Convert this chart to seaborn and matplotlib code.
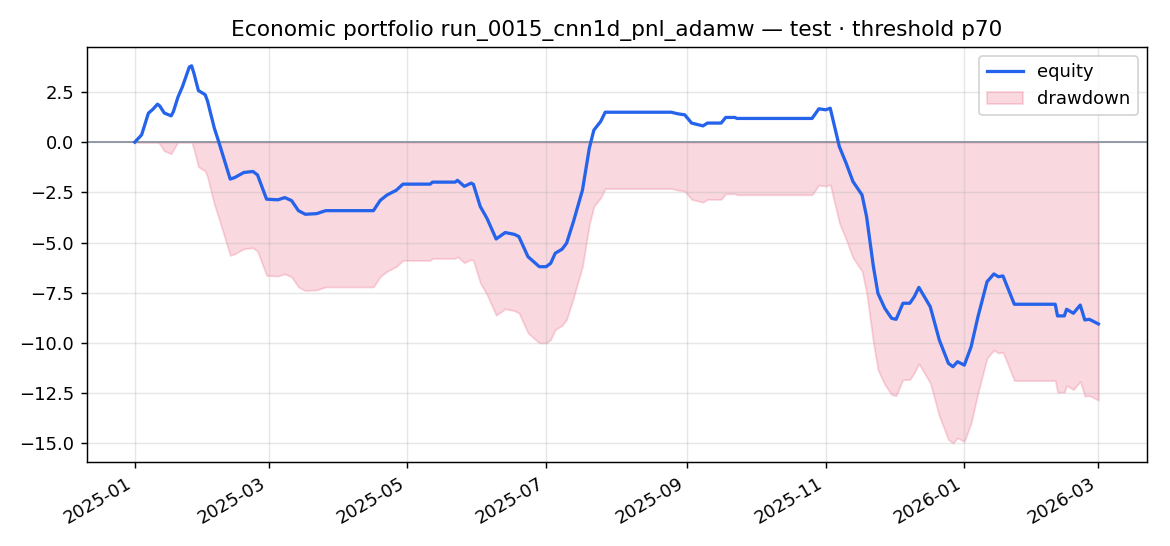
import numpy as np
import pandas as pd
import matplotlib
matplotlib.use('Agg')
import matplotlib.pyplot as plt
import matplotlib.dates as mdates
import seaborn as sns

# Dados (equity acumulada)
dates = ['2025-01-01', '2025-01-04', '2025-01-07', '2025-01-09', '2025-01-11', '2025-01-12',
         '2025-01-14', '2025-01-17', '2025-01-18', '2025-01-20', '2025-01-22', '2025-01-25',
         '2025-01-26', '2025-01-27', '2025-01-29', '2025-02-01', '2025-02-02', '2025-02-05',
         '2025-02-07', '2025-02-12', '2025-02-14', '2025-02-18', '2025-02-22', '2025-02-24',
         '2025-02-28', '2025-03-05', '2025-03-08', '2025-03-11', '2025-03-14', '2025-03-17',
         '2025-03-22', '2025-03-26', '2025-04-16', '2025-04-19', '2025-04-22', '2025-04-26',
         '2025-04-29', '2025-05-11', '2025-05-12', '2025-05-22', '2025-05-23', '2025-05-26',
         '2025-05-29', '2025-05-30', '2025-06-02', '2025-06-05', '2025-06-09', '2025-06-13',
         '2025-06-17', '2025-06-19', '2025-06-23', '2025-06-26', '2025-06-28', '2025-07-01',
         '2025-07-03', '2025-07-05', '2025-07-08', '2025-07-10', '2025-07-13', '2025-07-17',
         '2025-07-20', '2025-07-22', '2025-07-25', '2025-07-27', '2025-08-25', '2025-08-28',
         '2025-08-31', '2025-09-03', '2025-09-08', '2025-09-10', '2025-09-16', '2025-09-18',
         '2025-09-22', '2025-09-23', '2025-10-26', '2025-10-29', '2025-11-01', '2025-11-03',
         '2025-11-07', '2025-11-10', '2025-11-13', '2025-11-17', '2025-11-19', '2025-11-22',
         '2025-11-24', '2025-11-27', '2025-11-30', '2025-12-02', '2025-12-05', '2025-12-08',
         '2025-12-10', '2025-12-12', '2025-12-17', '2025-12-21', '2025-12-25', '2025-12-27',
         '2025-12-29', '2026-01-01', '2026-01-04', '2026-01-07', '2026-01-11', '2026-01-14',
         '2026-01-16', '2026-01-18', '2026-01-23', '2026-02-10', '2026-02-11', '2026-02-14',
         '2026-02-15', '2026-02-18', '2026-02-21', '2026-02-23', '2026-02-25', '2026-03-01']
equity = [0.00, 0.36, 1.44, 1.64, 1.89, 1.80,
          1.45, 1.31, 1.52, 2.24, 2.77, 3.74,
          3.80, 3.44, 2.57, 2.36, 2.05, 0.70,
          0.00, -1.84, -1.76, -1.51, -1.46, -1.63,
          -2.84, -2.87, -2.76, -2.91, -3.41, -3.59,
          -3.56, -3.41, -3.41, -2.90, -2.63, -2.40,
          -2.09, -2.09, -1.99, -1.99, -1.90, -2.20,
          -2.04, -2.10, -3.20, -3.80, -4.82, -4.50,
          -4.59, -4.70, -5.70, -6.00, -6.20, -6.20,
          -6.03, -5.53, -5.33, -5.03, -3.96, -2.38,
          -0.30, 0.60, 1.03, 1.49, 1.49, 1.41,
          1.36, 0.95, 0.81, 0.95, 0.95, 1.23,
          1.23, 1.18, 1.18, 1.66, 1.61, 1.69,
          -0.22, -1.05, -1.96, -2.63, -3.71, -6.20,
          -7.53, -8.27, -8.77, -8.82, -8.02, -8.02,
          -7.69, -7.23, -8.19, -9.85, -11.01, -11.18,
          -10.93, -11.10, -10.18, -8.69, -6.95, -6.56,
          -6.70, -6.66, -8.07, -8.07, -8.65, -8.65,
          -8.32, -8.52, -8.11, -8.85, -8.82, -9.05]

df = pd.DataFrame({'date': pd.to_datetime(dates), 'equity': equity})
# drawdown = equity - maximo acumulado
df['drawdown'] = df['equity'] - df['equity'].cummax()

fig, ax = plt.subplots(figsize=(9.0, 4.2), dpi=130)
fig.subplots_adjust(left=0.074, right=0.980, bottom=0.154, top=0.914)

ax.fill_between(df['date'], df['drawdown'], 0, color='#e11d48', alpha=0.17, label='drawdown')
ax.axhline(0, color='#8b93a1', lw=1.0)
sns.lineplot(data=df, x='date', y='equity', ax=ax, color='#2563eb', lw=1.8, label='equity')

ax.set_title('Economic portfolio run_0015_cnn1d_pnl_adamw \u2014 test \u00b7 threshold p70', fontsize=12)
ax.set_xlabel('')
ax.set_ylabel('')
ax.grid(True, alpha=0.3)
ax.xaxis.set_major_locator(mdates.MonthLocator(bymonth=[1, 3, 5, 7, 9, 11]))
ax.xaxis.set_major_formatter(mdates.DateFormatter('%Y-%m'))
plt.setp(ax.get_xticklabels(), rotation=30, ha='right')

handles, labels = ax.get_legend_handles_labels()
order = [labels.index('equity'), labels.index('drawdown')]
ax.legend([handles[i] for i in order], [labels[i] for i in order], loc='upper right')

fig.savefig('out.png', dpi=130)
